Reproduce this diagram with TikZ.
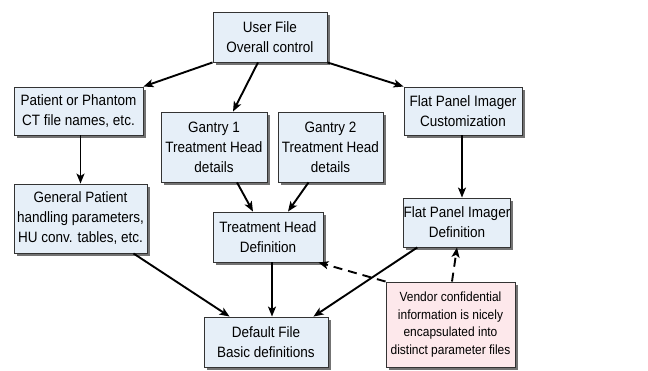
\documentclass[tikz,border=0pt]{standalone}
\usepackage{fontspec}
\setmainfont{Liberation Sans}[FakeStretch=0.9]
\usetikzlibrary{shadows,arrows.meta,calc}
\definecolor{boxblue}{HTML}{E6EFF8}
\definecolor{boxpink}{HTML}{FDE8EB}
\begin{document}
\begin{tikzpicture}[x=1pt,y=-1pt,
  box/.style={draw=black!80, line width=0.9pt, fill=boxblue, align=center, inner sep=0pt,
    font=\fontsize{15}{20}\selectfont,
    drop shadow={shadow xshift=2.5pt, shadow yshift=-3pt, fill=black, opacity=0.55}},
  note/.style={box, fill=boxpink, font=\fontsize{13.3}{17.5}\selectfont},
  arr/.style={line width=1.9pt, -{Stealth[length=10pt,width=8pt,inset=2.5pt]}},
  darr/.style={arr, dash pattern=on 9pt off 6pt}]
\useasboundingbox (0,0) rectangle (648,370);
\node[box, minimum width=114pt, minimum height=50pt] (user) at (270,37) {User File\\Overall control};
\node[box, minimum width=129pt, minimum height=48pt] (patient) at (78.5,111) {Patient or Phantom\\CT file names, etc.};
\node[box, minimum width=106pt, minimum height=70pt] (gantry1) at (214,147) {Gantry 1\\Treatment Head\\details};
\node[box, minimum width=105pt, minimum height=70pt] (gantry2) at (330.5,147) {Gantry 2\\Treatment Head\\details};
\node[box, minimum width=118pt, minimum height=48pt] (fpcust) at (463,111) {Flat Panel Imager\\Customization};
\node[box, minimum width=133pt, minimum height=69pt] (general) at (80.5,218.5) {General Patient\\handling parameters,\\HU conv. tables, etc.};
\node[box, minimum width=110pt, minimum height=50pt] (thdef) at (268,237) {Treatment Head\\Definition};
\node[box, minimum width=106pt, minimum height=49pt] (fpdef) at (457,222.5) {Flat Panel Imager\\Definition};
\node[box, minimum width=124pt, minimum height=50pt] (default) at (266,342) {Default File\\Basic definitions};
\node[note, minimum width=129pt, minimum height=85pt] (vendor) at (450.5,324.5) {Vendor confidential\\information is nicely\\encapsulated into\\distinct parameter files};

\draw[arr] (user.south west) -- (patient.north east);
\draw[arr] ($(user.south)+(-12,0)$) -- ($(gantry1.north)+(19,0)$);
\draw[arr] (user.south east) -- (fpcust.north west);
\draw[arr] ($(patient.south)+(2,0)$) -- (general.north);
\draw[arr] ($(gantry1.south)+(23,0)$) -- ($(thdef.north)+(-15,0)$);
\draw[arr] ($(gantry2.south)+(-22,0)$) -- ($(thdef.north)+(20,0)$);
\draw[arr] ($(fpcust.south)+(-1,0)$) -- ($(fpdef.north)+(5,0)$);
\draw[arr] ($(general.south east)+(-14,0)$) -- ($(default.north west)+(26,0)$);
\draw[arr] ($(thdef.south)+(4,0)$) -- ($(default.north)+(6,0)$);
\draw[arr] ($(fpdef.south west)+(14,0)$) -- ($(default.north east)+(-15,0)$);
\draw[darr] (vendor.north west) -- ($(thdef.south east)+(-5,0)$);
\draw[darr] ($(vendor.north)+(1.5,0)$) -- (fpdef.south);
\end{tikzpicture}
\end{document}
